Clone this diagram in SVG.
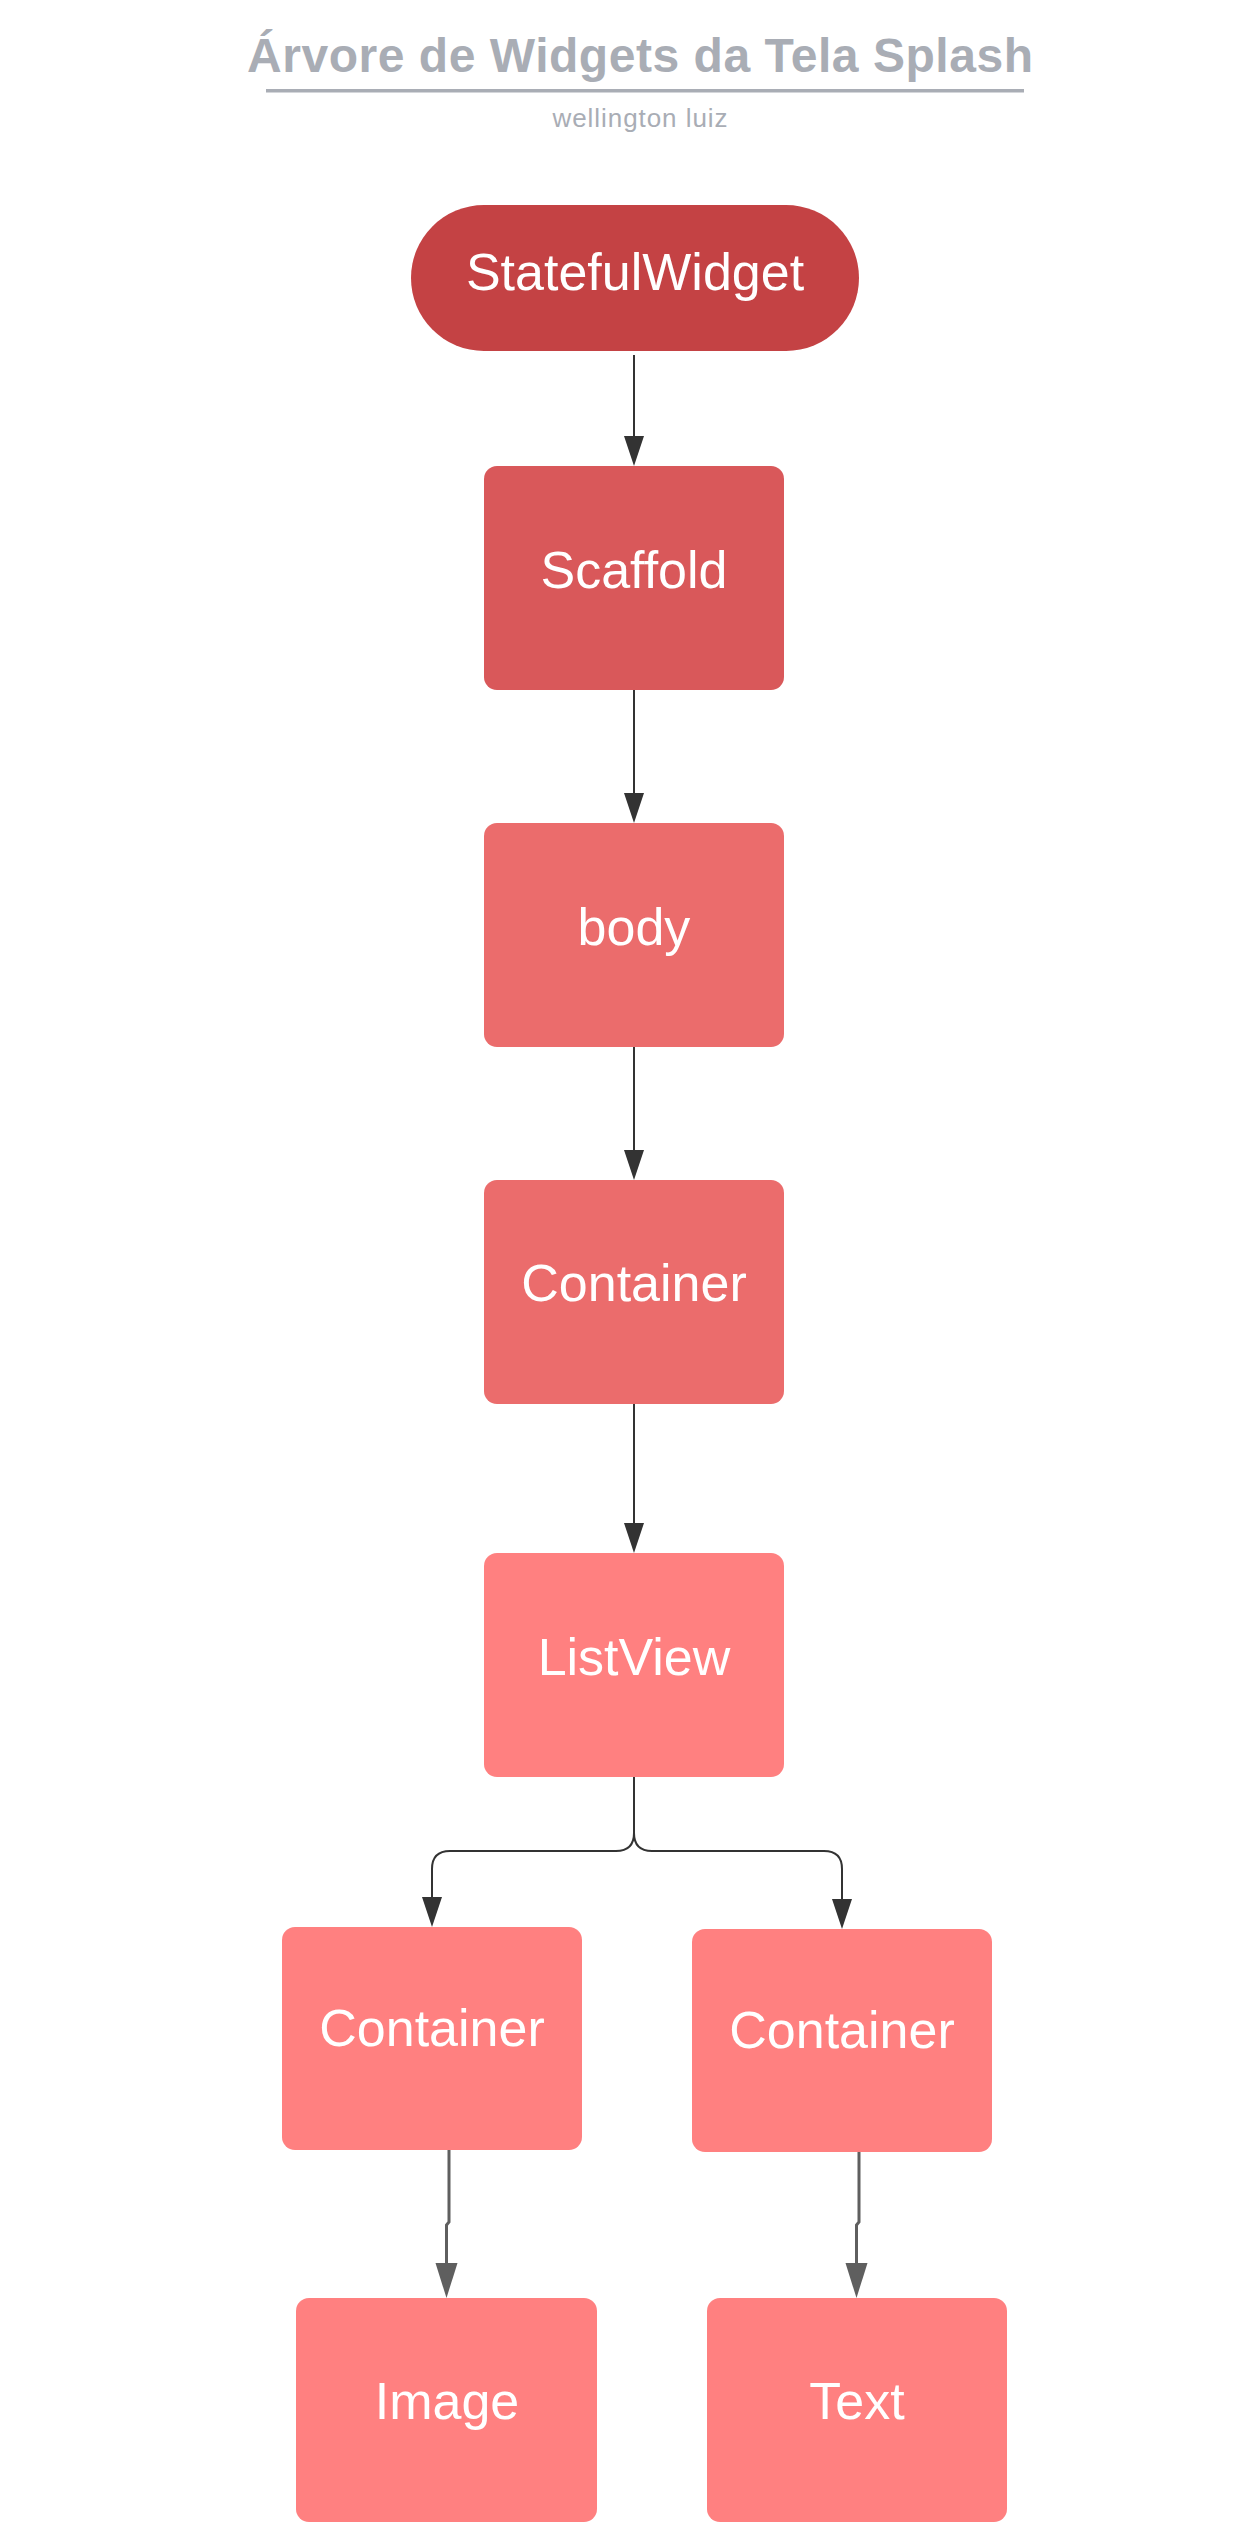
<svg xmlns="http://www.w3.org/2000/svg" width="1251" height="2522" viewBox="0 0 1251 2522">
<style>
.lbl{font-family:"Liberation Sans",Arial,sans-serif;font-size:52px;fill:#ffffff;text-anchor:middle}
.c1{fill:#c44244}
.c2{fill:#d9585a}
.c3{fill:#eb6c6c}
.c4{fill:#ff8080}
.dk{fill:none;stroke:#333333;stroke-width:2}
.gr{fill:none;stroke:#5f5f5f;stroke-width:3}
</style>
<defs>
<marker id="ad" markerUnits="userSpaceOnUse" markerWidth="32" markerHeight="24" viewBox="0 -12 32 24" refX="0" refY="0" orient="auto" overflow="visible"><path d="M0,-10 L30,0 L0,10 Z" fill="#333333"/></marker>
<marker id="ag" markerUnits="userSpaceOnUse" markerWidth="37" markerHeight="26" viewBox="0 -13 37 26" refX="0" refY="0" orient="auto" overflow="visible"><path d="M0,-11 L35,0 L0,11 Z" fill="#5f5f5f"/></marker>
</defs>
<rect width="1251" height="2522" fill="#ffffff"/>
<g id="title">
<text x="640" y="72" font-family="'Liberation Sans',Arial,sans-serif" font-size="48" font-weight="bold" fill="#a9adb5" text-anchor="middle" textLength="786" lengthAdjust="spacing">Árvore de Widgets da Tela Splash</text>
<rect x="266" y="89" width="758" height="3.5" fill="#a9adb5"/>
<text x="640" y="127" font-family="'Liberation Sans',Arial,sans-serif" font-size="26" fill="#a9adb5" text-anchor="middle" textLength="175" lengthAdjust="spacing">wellington luiz</text>
</g>
<g id="connectors">
<path class="dk" d="M634,355 V436" marker-end="url(#ad)"/>
<path class="dk" d="M634,690 V793" marker-end="url(#ad)"/>
<path class="dk" d="M634,1047 V1150" marker-end="url(#ad)"/>
<path class="dk" d="M634,1404 V1523" marker-end="url(#ad)"/>
<path class="dk" d="M634,1777 V1833 Q634,1851 616,1851 H450 Q432,1851 432,1869 V1897" marker-end="url(#ad)"/>
<path class="dk" d="M634,1833 Q634,1851 652,1851 H824 Q842,1851 842,1869 V1899" marker-end="url(#ad)"/>
<path class="gr" d="M449,2150 V2222 L446.5,2225 V2263" marker-end="url(#ag)"/>
<path class="gr" d="M859,2152 V2222 L856.5,2225 V2263" marker-end="url(#ag)"/>
</g>
<g id="n-statefulwidget">
<rect class="c1" x="411" y="205" width="448" height="146" rx="73" ry="73"/>
<text class="lbl" x="635" y="290">StatefulWidget</text>
</g>
<g id="n-scaffold">
<rect class="c2" x="484" y="466" width="300" height="224" rx="13" ry="13"/>
<text class="lbl" x="634" y="588">Scaffold</text>
</g>
<g id="n-body">
<rect class="c3" x="484" y="823" width="300" height="224" rx="13" ry="13"/>
<text class="lbl" x="634" y="945">body</text>
</g>
<g id="n-container">
<rect class="c3" x="484" y="1180" width="300" height="224" rx="13" ry="13"/>
<text class="lbl" x="634" y="1301">Container</text>
</g>
<g id="n-listview">
<rect class="c4" x="484" y="1553" width="300" height="224" rx="13" ry="13"/>
<text class="lbl" x="634" y="1675">ListView</text>
</g>
<g id="n-container-left">
<rect class="c4" x="282" y="1927" width="300" height="223" rx="13" ry="13"/>
<text class="lbl" x="432" y="2046">Container</text>
</g>
<g id="n-container-right">
<rect class="c4" x="692" y="1929" width="300" height="223" rx="13" ry="13"/>
<text class="lbl" x="842" y="2048">Container</text>
</g>
<g id="n-image">
<rect class="c4" x="296" y="2298" width="301" height="224" rx="13" ry="13"/>
<text class="lbl" x="447" y="2419">Image</text>
</g>
<g id="n-text">
<rect class="c4" x="707" y="2298" width="300" height="224" rx="13" ry="13"/>
<text class="lbl" x="857" y="2419">Text</text>
</g>
</svg>
